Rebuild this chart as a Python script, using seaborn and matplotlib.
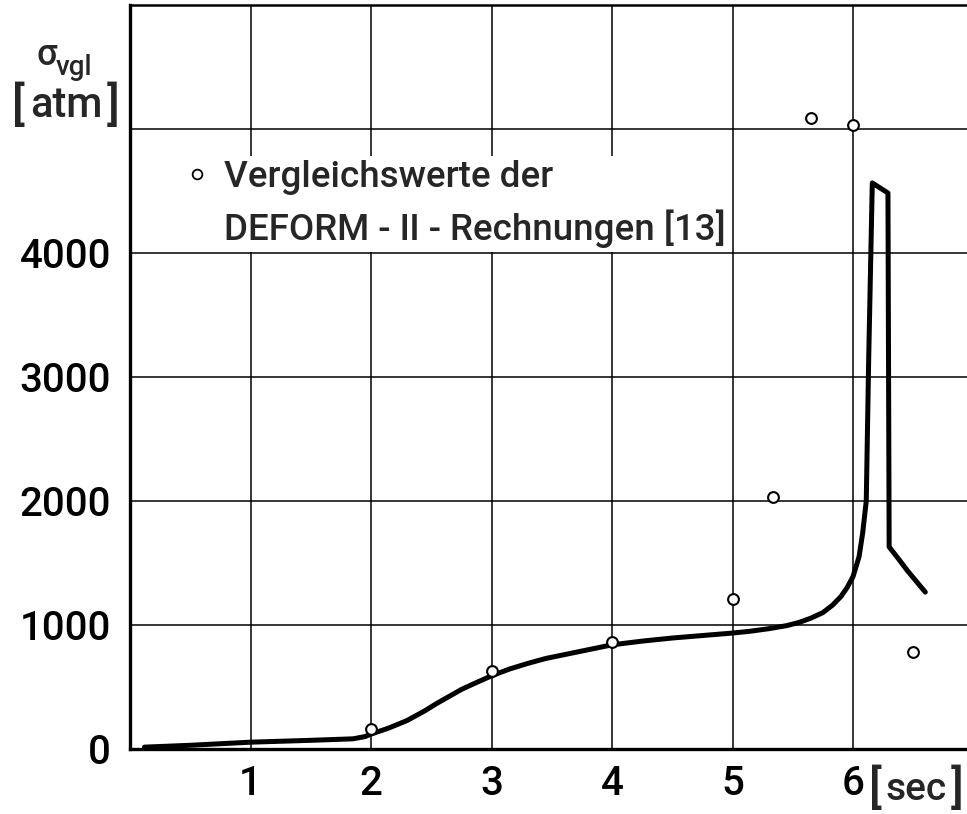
import numpy as np
import pandas as pd
import matplotlib
matplotlib.use("Agg")
import matplotlib.pyplot as plt
import seaborn as sns
from matplotlib.lines import Line2D

# ---- data ----
time_curve = [0.12, 0.5, 1.0, 1.5, 1.85, 1.95, 2.0, 2.15, 2.3, 2.45, 2.55, 2.65, 2.75,
              2.85, 3.0, 3.15, 3.3, 3.45, 3.6, 3.8, 4.0, 4.25, 4.5, 4.75, 5.0, 5.15,
              5.3, 5.45, 5.55, 5.65, 5.75, 5.83, 5.9, 5.95, 6.0, 6.05, 6.08, 6.11,
              6.13, 6.16, 6.29, 6.30, 6.38, 6.45, 6.60]
sigma_curve = [15, 30, 55, 70, 82, 100, 120, 170, 230, 310, 370, 425, 480,
               525, 590, 645, 690, 730, 760, 800, 840, 870, 895, 915, 935, 950,
               970, 995, 1020, 1055, 1100, 1160, 1230, 1300, 1390, 1550, 1740, 2000,
               3140, 4565, 4484, 1630, 1530, 1440, 1265]

time_pts = [2.0, 3.0, 4.0, 5.0, 5.34, 5.65, 6.0, 6.5]
sigma_pts = [165, 630, 860, 1210, 2030, 5090, 5030, 780]

x_ticks = [1, 2, 3, 4, 5, 6]
y_ticks = [0, 1000, 2000, 3000, 4000]
legend_lines = ["Vergleichswerte der", "DEFORM - Ⅱ - Rechnungen [13]"]

curve = pd.DataFrame({"t": time_curve, "sigma": sigma_curve})
pts = pd.DataFrame({"t": time_pts, "sigma": sigma_pts})

sns.set_style("white")
plt.rcParams["font.family"] = ["Roboto", "DejaVu Sans"]
plt.rcParams["font.weight"] = "medium"

W, H = 967, 814
fig = plt.figure(figsize=(W / 100, H / 100), dpi=100)
ax = fig.add_axes([130 / W, 65 / H, 837 / W, 744 / H])

ax.set_xlim(0, 6.946)
ax.set_ylim(0, 6000)
ax.set_xticks(x_ticks)
ax.set_xticklabels([str(v) for v in x_ticks])
ax.set_yticks(y_ticks)
ax.set_yticklabels([str(v) for v in y_ticks])
ax.set_axisbelow(True)
ax.grid(True, color="black", lw=1.1)
ax.axhline(5000, color="black", lw=1.1, zorder=0.5)

sns.lineplot(data=curve, x="t", y="sigma", sort=False, estimator=None,
             color="black", lw=3.6, ax=ax, zorder=3)
sns.scatterplot(data=pts, x="t", y="sigma", marker="o", s=60,
                facecolor="white", edgecolor="black", linewidth=1.5,
                ax=ax, zorder=4)

ax.set_xlabel("")
ax.set_ylabel("")
ax.tick_params(axis="both", direction="out", length=8.6, width=2.2,
               labelsize=29, color="black", labelcolor="black")
ax.tick_params(axis="y", pad=5)
ax.tick_params(axis="x", pad=3)

for side in ["left", "bottom"]:
    ax.spines[side].set_linewidth(2.4)
    ax.spines[side].set_color("black")
ax.spines["top"].set_linewidth(1.8)
ax.spines["top"].set_color("black")
ax.spines["right"].set_visible(False)

handles = [Line2D([], [], marker="o", ls="none", mfc="white", mec="black",
                  mew=1.3, ms=7),
           Line2D([], [], ls="none")]
leg = ax.legend(handles, legend_lines, loc="upper left",
                bbox_to_anchor=(182 / W, 1 - 156 / H),
                bbox_transform=fig.transFigure, frameon=True, fancybox=False,
                framealpha=1, facecolor="white", edgecolor="none",
                fontsize=26.5, handlelength=0.6, handletextpad=0.45,
                borderpad=0.1, labelspacing=0.4, borderaxespad=0)
leg.set_zorder(5)

def px(x, y):
    return x / W, 1 - y / H

fig.text(*px(47, 65), "σ", fontsize=26, ha="center", va="baseline")
fig.text(*px(56, 75), "vgl", fontsize=20, ha="left", va="baseline")
fig.text(*px(12, 120), "[", fontsize=34, ha="left", va="baseline")
fig.text(*px(66, 117), "atm", fontsize=30, ha="center", va="baseline")
fig.text(*px(120, 120), "]", fontsize=34, ha="right", va="baseline")

fig.text(*px(869, 803), "[", fontsize=34, ha="left", va="baseline")
fig.text(*px(916, 800), "sec", fontsize=28, ha="center", va="baseline")
fig.text(*px(964, 803), "]", fontsize=34, ha="right", va="baseline")

fig.savefig("out.png", dpi=100)
